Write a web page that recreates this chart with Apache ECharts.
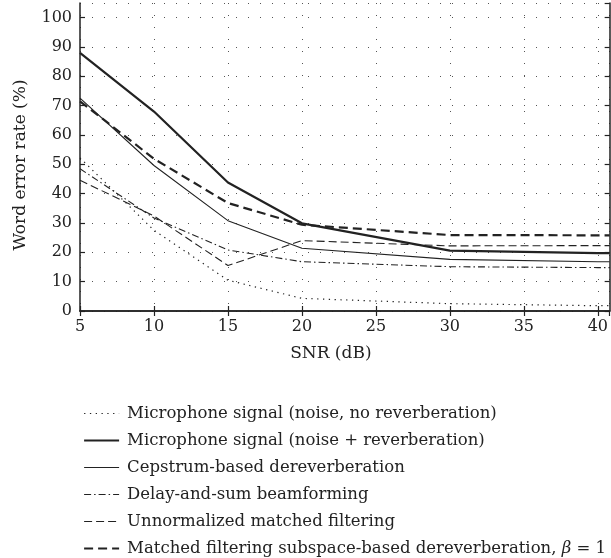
<!DOCTYPE html>
<html><head><meta charset="utf-8">
<script src="https://cdn.jsdelivr.net/npm/echarts@6/dist/echarts.min.js"></script>
<style>html,body{margin:0;padding:0;background:#fff}#c{width:611px;height:558px}</style>
</head><body><div id="c"></div>
<script>
const snr = [5, 10, 15, 20, 30, 40, 40.8];
const micNoRev = [52.2, 27.5, 10.5, 4.3, 2.5, 1.8, 1.8];
const micRev = [88.0, 68.0, 43.8, 29.9, 20.6, 19.7, 19.7];
const cepstrum = [72.6, 49.6, 30.8, 21.4, 17.6, 16.8, 16.8];
const delaySum = [48.5, 31.7, 20.8, 16.8, 15.1, 14.8, 14.8];
const unnormMF = [44.6, 32.4, 15.5, 24.0, 22.2, 22.3, 22.3];
const mfSubspace = [71.5, 51.9, 36.8, 29.4, 25.9, 25.8, 25.8];
const seriesNames = [
  'Microphone signal (noise, no reverberation)',
  'Microphone signal (noise + reverberation)',
  'Cepstrum-based dereverberation',
  'Delay-and-sum beamforming',
  'Unnormalized matched filtering',
  'Matched filtering subspace-based dereverberation, \u03b2 = 1'
];
const xName = 'SNR (dB)';
const yName = 'Word error rate (%)';

const FONT = 'DejaVu Serif';
const ink = '#222';
const styles = [
  {width: 1.2, type: [1.3, 4.5]},
  {width: 2.2, type: 'solid'},
  {width: 1.1, type: 'solid'},
  {width: 1.1, type: [7, 3, 1.5, 3]},
  {width: 1.1, type: [8, 4]},
  {width: 2.2, type: [9, 5]}
];
const values = [micNoRev, micRev, cepstrum, delaySum, unnormMF, mfSubspace];

const chart = echarts.init(document.getElementById('c'), null, {renderer: 'canvas'});
const axisCommon = {
  type: 'value',
  axisLine: {show: true, lineStyle: {color: ink, width: 1.5}},
  axisTick: {show: true, inside: true, length: 5, lineStyle: {color: ink, width: 1.2}},
};
chart.setOption({
  animation: false,
  backgroundColor: '#fff',
  grid: {left: 80, right: -1, top: 3, bottom: 247, containLabel: false},
  xAxis: [
    Object.assign({}, axisCommon, {
      min: 5, max: 40.8, interval: 5, position: 'bottom',
      name: xName, nameLocation: 'middle', nameGap: 34,
      nameTextStyle: {fontFamily: FONT, fontSize: 17, color: ink, padding: [0, 28, 0, 0]},
      axisLabel: {fontFamily: FONT, fontSize: 16, color: ink, margin: 8, showMaxLabel: false},
      splitLine: {show: true, lineStyle: {color: '#555', width: 1, type: [1, 11]}}
    }),
    Object.assign({}, axisCommon, {
      min: 5, max: 40.8, interval: 5, position: 'top',
      axisLabel: {show: false}, splitLine: {show: false}
    })
  ],
  yAxis: [
    Object.assign({}, axisCommon, {
      min: 0, max: 105, interval: 10, position: 'left',
      name: yName, nameLocation: 'middle', nameGap: 51, nameRotate: 90,
      nameTextStyle: {fontFamily: FONT, fontSize: 17, color: ink, padding: [0, 16, 0, 0]},
      axisLabel: {fontFamily: FONT, fontSize: 16, color: ink, margin: 8, showMaxLabel: false},
      splitLine: {show: true, lineStyle: {color: '#555', width: 1, type: [1, 11]}}
    }),
    Object.assign({}, axisCommon, {
      min: 0, max: 105, interval: 10, position: 'right',
      axisLabel: {show: false}, splitLine: {show: false}
    })
  ],
  legend: {
    orient: 'vertical', left: 78, top: 400, height: 170, width: 560,
    itemWidth: 35, itemHeight: 14, itemGap: 10,
    itemStyle: {opacity: 0},
    textStyle: {fontFamily: FONT, fontSize: 16.5, color: ink, lineHeight: 17, padding: [0, 0, 0, 3],
      rich: {b: {fontFamily: FONT, fontSize: 16.5, fontStyle: 'italic', color: ink}}},
    formatter: function (n) { return n.replace('\u03b2', '{b|\u03b2}'); },
    data: seriesNames.map(function (n, i) {
      return {name: n, itemStyle: {opacity: 0},
        lineStyle: {color: ink, width: styles[i].width, type: styles[i].type}};
    })
  },
  series: values.map(function (v, i) {
    return {
      name: seriesNames[i], type: 'line', xAxisIndex: 0, yAxisIndex: 0,
      showSymbol: false, symbol: 'none',
      lineStyle: {color: ink, width: styles[i].width, type: styles[i].type},
      itemStyle: {color: ink},
      data: snr.map(function (x, k) { return [x, v[k]]; })
    };
  })
});
</script></body></html>
